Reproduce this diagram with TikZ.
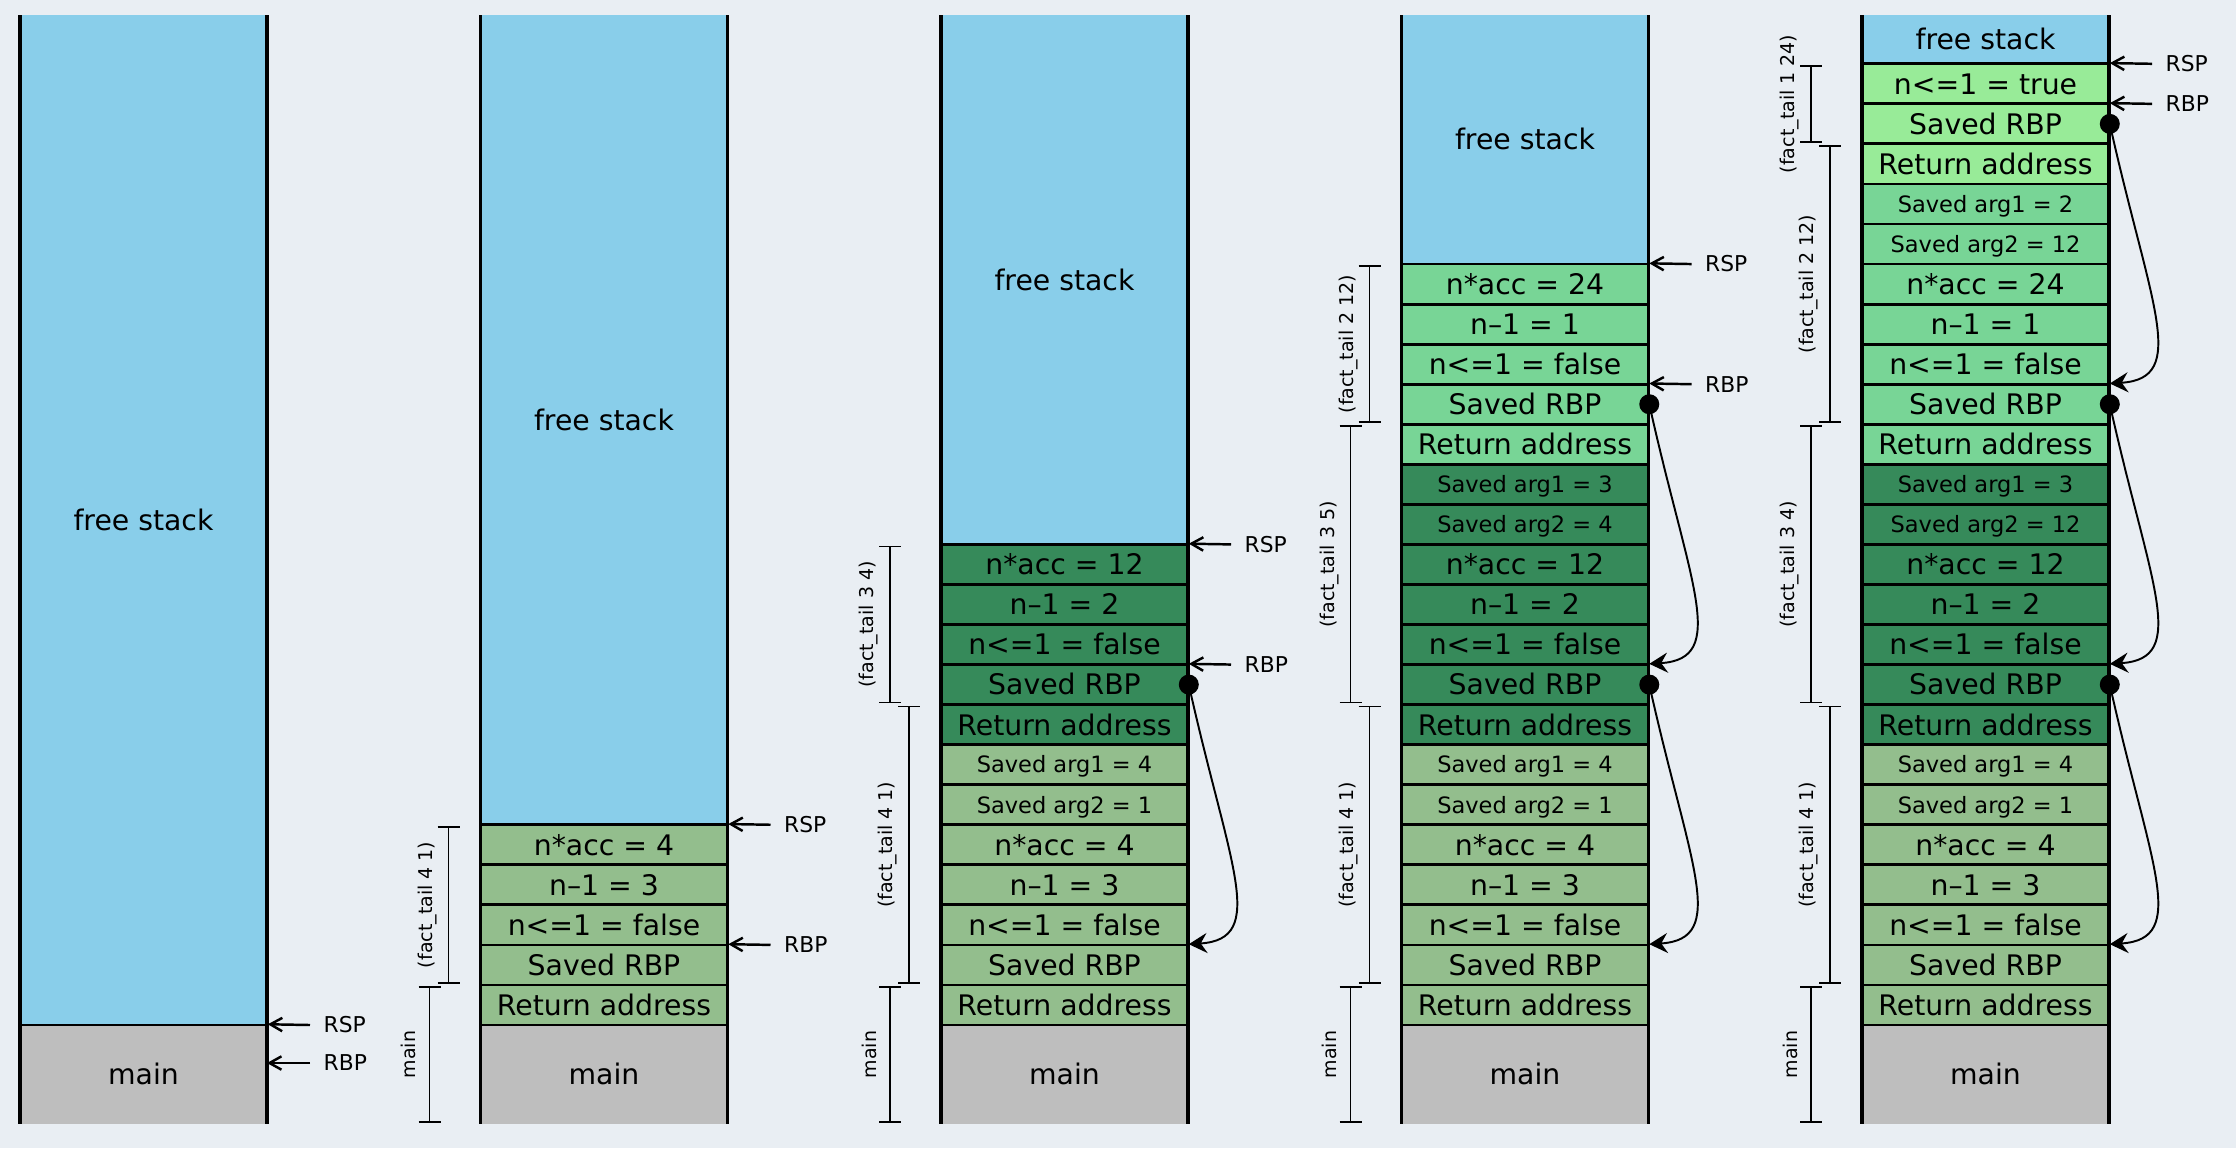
\documentclass[tikz,border=0pt]{standalone}
\usepackage{fontspec}
\setmainfont{DejaVu Sans}
\usetikzlibrary{arrows.meta}
\definecolor{bg}{RGB}{233,238,243}
\definecolor{freeblue}{RGB}{137,206,234}
\definecolor{maingrey}{RGB}{190,190,190}
\definecolor{sage}{RGB}{147,190,141}
\definecolor{darkgreen}{RGB}{54,138,90}
\definecolor{midgreen}{RGB}{120,213,150}
\definecolor{lightgreen}{RGB}{152,235,152}
\tikzset{
  cellbox/.style={inner sep=0pt, minimum width=2.47cm, minimum height=0.4005cm,
    font=\fontsize{8.05}{9}\selectfont, text height=5.9pt, text depth=0pt},
  smalltxt/.style={font=\fontsize{6.4}{7}\selectfont, text height=4.7pt},
  freebox/.style={cellbox, fill=freeblue},
  mainbox/.style={cellbox, fill=maingrey, minimum height=0.99cm},
  sepline/.style={line width=0.8pt},
  sideline/.style={line width=0.9pt},
  ptr/.style={line width=0.7pt, -{Straight Barb[length=3.4pt,width=3.8pt]}},
  ptrlabel/.style={anchor=west, inner xsep=0.13cm, inner ysep=0pt,
    font=\fontsize{6.2}{7}\selectfont, text height=4.5pt, text depth=0pt},
  linkdot/.style={circle, fill=black, inner sep=0pt, minimum size=0.2cm},
  link/.style={line width=0.55pt, -{Stealth[length=5.2pt,width=5.7pt,inset=1.8pt]}},
  frameline/.style={line width=0.5pt},
  framelabel/.style={rotate=90, font=\fontsize{5.4}{6}\selectfont, inner sep=0pt},
}
% #1 name, #2 column left x, #3 row index, #4 style, #5 text
\newcommand\stackrow[5]{\node[cellbox,#4] (#1) at ({#2+123.5},{1025-(#3-0.5)*40.05}) {#5};}
% #1 name, #2 bracket x, #3 top row boundary, #4 bottom row boundary, #5 label
\newcommand\fbrack[5]{%
  \draw[frameline] ({#2-11},{1025-#3*40.05+2}) -- ({#2+11},{1025-#3*40.05+2})
    ({#2},{1025-#3*40.05+2}) -- ({#2},{1025-#4*40.05-2})
    ({#2-11},{1025-#4*40.05-2}) -- ({#2+11},{1025-#4*40.05-2});
  \node[framelabel] (#1) at ({#2-21},{1025-(#3+#4)*20.025}) {#5};}
\newcommand\mainbrack[2]{%
  \draw[frameline] ({#2-11},987) -- ({#2+11},987) (#2,987) -- (#2,1122)
    ({#2-11},1122) -- ({#2+11},1122);
  \node[framelabel] (#1) at ({#2-21},1054.5) {main};}
\begin{document}
\begin{tikzpicture}[x=0.01cm, y=-0.01cm]
\useasboundingbox (0,0) rectangle (2236,1148);
\fill[bg] (0,0) rectangle (2236,1148);

% ---------- column 1 ----------
\node[freebox, minimum height=10.10cm] (f1) at (143.5,520) {free stack};
\node[mainbox] (m1) at (143.5,1074.5) {main};

% ---------- column 2 ----------
\node[freebox, minimum height=8.0975cm] (f2) at (604,419.9) {free stack};
\node[mainbox] (m2) at (604,1074.5) {main};
\stackrow{c2r1}{480.5}{1}{fill=sage}{Return address}
\stackrow{c2r2}{480.5}{2}{fill=sage}{Saved RBP}
\stackrow{c2r3}{480.5}{3}{fill=sage}{n<=1 = false}
\stackrow{c2r4}{480.5}{4}{fill=sage}{n–1 = 3}
\stackrow{c2r5}{480.5}{5}{fill=sage}{n*acc = 4}

% ---------- column 3 ----------
\node[freebox, minimum height=5.294cm] (f3) at (1064.5,279.7) {free stack};
\node[mainbox] (m3) at (1064.5,1074.5) {main};
\stackrow{c3r1}{941}{1}{fill=sage}{Return address}
\stackrow{c3r2}{941}{2}{fill=sage}{Saved RBP}
\stackrow{c3r3}{941}{3}{fill=sage}{n<=1 = false}
\stackrow{c3r4}{941}{4}{fill=sage}{n–1 = 3}
\stackrow{c3r5}{941}{5}{fill=sage}{n*acc = 4}
\stackrow{c3r6}{941}{6}{fill=sage,smalltxt}{Saved arg2 = 1}
\stackrow{c3r7}{941}{7}{fill=sage,smalltxt}{Saved arg1 = 4}
\stackrow{c3r8}{941}{8}{fill=darkgreen}{Return address}
\stackrow{c3r9}{941}{9}{fill=darkgreen}{Saved RBP}
\stackrow{c3r10}{941}{10}{fill=darkgreen}{n<=1 = false}
\stackrow{c3r11}{941}{11}{fill=darkgreen}{n–1 = 2}
\stackrow{c3r12}{941}{12}{fill=darkgreen}{n*acc = 12}

% ---------- column 4 ----------
\node[freebox, minimum height=2.4905cm] (f4) at (1525,139.5) {free stack};
\node[mainbox] (m4) at (1525,1074.5) {main};
\stackrow{c4r1}{1401.5}{1}{fill=sage}{Return address}
\stackrow{c4r2}{1401.5}{2}{fill=sage}{Saved RBP}
\stackrow{c4r3}{1401.5}{3}{fill=sage}{n<=1 = false}
\stackrow{c4r4}{1401.5}{4}{fill=sage}{n–1 = 3}
\stackrow{c4r5}{1401.5}{5}{fill=sage}{n*acc = 4}
\stackrow{c4r6}{1401.5}{6}{fill=sage,smalltxt}{Saved arg2 = 1}
\stackrow{c4r7}{1401.5}{7}{fill=sage,smalltxt}{Saved arg1 = 4}
\stackrow{c4r8}{1401.5}{8}{fill=darkgreen}{Return address}
\stackrow{c4r9}{1401.5}{9}{fill=darkgreen}{Saved RBP}
\stackrow{c4r10}{1401.5}{10}{fill=darkgreen}{n<=1 = false}
\stackrow{c4r11}{1401.5}{11}{fill=darkgreen}{n–1 = 2}
\stackrow{c4r12}{1401.5}{12}{fill=darkgreen}{n*acc = 12}
\stackrow{c4r13}{1401.5}{13}{fill=darkgreen,smalltxt}{Saved arg2 = 4}
\stackrow{c4r14}{1401.5}{14}{fill=darkgreen,smalltxt}{Saved arg1 = 3}
\stackrow{c4r15}{1401.5}{15}{fill=midgreen}{Return address}
\stackrow{c4r16}{1401.5}{16}{fill=midgreen}{Saved RBP}
\stackrow{c4r17}{1401.5}{17}{fill=midgreen}{n<=1 = false}
\stackrow{c4r18}{1401.5}{18}{fill=midgreen}{n–1 = 1}
\stackrow{c4r19}{1401.5}{19}{fill=midgreen}{n*acc = 24}

% ---------- column 5 ----------
\node[freebox, minimum height=0.488cm] (f5) at (1985.5,39.4) {free stack};
\node[mainbox] (m5) at (1985.5,1074.5) {main};
\stackrow{c5r1}{1862}{1}{fill=sage}{Return address}
\stackrow{c5r2}{1862}{2}{fill=sage}{Saved RBP}
\stackrow{c5r3}{1862}{3}{fill=sage}{n<=1 = false}
\stackrow{c5r4}{1862}{4}{fill=sage}{n–1 = 3}
\stackrow{c5r5}{1862}{5}{fill=sage}{n*acc = 4}
\stackrow{c5r6}{1862}{6}{fill=sage,smalltxt}{Saved arg2 = 1}
\stackrow{c5r7}{1862}{7}{fill=sage,smalltxt}{Saved arg1 = 4}
\stackrow{c5r8}{1862}{8}{fill=darkgreen}{Return address}
\stackrow{c5r9}{1862}{9}{fill=darkgreen}{Saved RBP}
\stackrow{c5r10}{1862}{10}{fill=darkgreen}{n<=1 = false}
\stackrow{c5r11}{1862}{11}{fill=darkgreen}{n–1 = 2}
\stackrow{c5r12}{1862}{12}{fill=darkgreen}{n*acc = 12}
\stackrow{c5r13}{1862}{13}{fill=darkgreen,smalltxt}{Saved arg2 = 12}
\stackrow{c5r14}{1862}{14}{fill=darkgreen,smalltxt}{Saved arg1 = 3}
\stackrow{c5r15}{1862}{15}{fill=midgreen}{Return address}
\stackrow{c5r16}{1862}{16}{fill=midgreen}{Saved RBP}
\stackrow{c5r17}{1862}{17}{fill=midgreen}{n<=1 = false}
\stackrow{c5r18}{1862}{18}{fill=midgreen}{n–1 = 1}
\stackrow{c5r19}{1862}{19}{fill=midgreen}{n*acc = 24}
\stackrow{c5r20}{1862}{20}{fill=midgreen,smalltxt}{Saved arg2 = 12}
\stackrow{c5r21}{1862}{21}{fill=midgreen,smalltxt}{Saved arg1 = 2}
\stackrow{c5r22}{1862}{22}{fill=lightgreen}{Return address}
\stackrow{c5r23}{1862}{23}{fill=lightgreen}{Saved RBP}
\stackrow{c5r24}{1862}{24}{fill=lightgreen}{n<=1 = true}

% ---------- separators and sides ----------
\draw[sepline] (20,1025) -- ++(247,0);
\foreach \k in {0,...,5} \draw[sepline] (480.5,{1025-\k*40.05}) -- ++(247,0);
\foreach \k in {0,...,12} \draw[sepline] (941,{1025-\k*40.05}) -- ++(247,0);
\foreach \k in {0,...,19} \draw[sepline] (1401.5,{1025-\k*40.05}) -- ++(247,0);
\foreach \k in {0,...,24} \draw[sepline] (1862,{1025-\k*40.05}) -- ++(247,0);
\foreach \X in {20,480.5,941,1401.5,1862}
  \draw[sideline] (\X,15) -- (\X,1124) ({\X+247},15) -- ({\X+247},1124);

% ---------- RSP / RBP pointers ----------
\coordinate (c1bp) at (267,1063);
\node[ptrlabel] (l1sp) at (310,1025) {RSP};
\node[ptrlabel] (l1bp) at (310,1063) {RBP};
\draw[ptr] (l1sp.west) -- (m1.north east);
\draw[ptr] (l1bp.west) -- (c1bp);

\node[ptrlabel] (l2sp) at (770.5,824.75) {RSP};
\node[ptrlabel] (l2bp) at (770.5,944.9) {RBP};
\draw[ptr] (l2sp.west) -- (c2r5.north east);
\draw[ptr] (l2bp.west) -- (c2r2.north east);

\node[ptrlabel] (l3sp) at (1231,544.4) {RSP};
\node[ptrlabel] (l3bp) at (1231,664.55) {RBP};
\draw[ptr] (l3sp.west) -- (c3r12.north east);
\draw[ptr] (l3bp.west) -- (c3r9.north east);

\node[ptrlabel] (l4sp) at (1691.5,264.05) {RSP};
\node[ptrlabel] (l4bp) at (1691.5,384.2) {RBP};
\draw[ptr] (l4sp.west) -- (c4r19.north east);
\draw[ptr] (l4bp.west) -- (c4r16.north east);

\node[ptrlabel] (l5sp) at (2152,63.8) {RSP};
\node[ptrlabel] (l5bp) at (2152,103.85) {RBP};
\draw[ptr] (l5sp.west) -- (c5r24.north east);
\draw[ptr] (l5bp.west) -- (c5r23.north east);

% ---------- saved RBP links ----------
\node[linkdot] (d3a) at (c3r9.east) {};
\draw[link] (d3a.center) .. controls +(40,180) and +(80,-5) .. (c3r2.north east);

\node[linkdot] (d4a) at (c4r16.east) {};
\node[linkdot] (d4b) at (c4r9.east) {};
\draw[link] (d4a.center) .. controls +(40,180) and +(80,-5) .. (c4r9.north east);
\draw[link] (d4b.center) .. controls +(40,180) and +(80,-5) .. (c4r2.north east);

\node[linkdot] (d5a) at (c5r23.east) {};
\node[linkdot] (d5b) at (c5r16.east) {};
\node[linkdot] (d5c) at (c5r9.east) {};
\draw[link] (d5a.center) .. controls +(40,180) and +(80,-5) .. (c5r16.north east);
\draw[link] (d5b.center) .. controls +(40,180) and +(80,-5) .. (c5r9.north east);
\draw[link] (d5c.center) .. controls +(40,180) and +(80,-5) .. (c5r2.north east);

% ---------- frame brackets ----------
\mainbrack{b2m}{429.5}
\fbrack{b2a}{448.5}{5}{1}{(fact\_tail 4 1)}

\mainbrack{b3m}{890}
\fbrack{b3a}{909}{8}{1}{(fact\_tail 4 1)}
\fbrack{b3b}{890}{12}{8}{(fact\_tail 3 4)}

\mainbrack{b4m}{1350.5}
\fbrack{b4a}{1369.5}{8}{1}{(fact\_tail 4 1)}
\fbrack{b4b}{1350.5}{15}{8}{(fact\_tail 3 5)}
\fbrack{b4c}{1369.5}{19}{15}{(fact\_tail 2 12)}

\mainbrack{b5m}{1811}
\fbrack{b5a}{1830}{8}{1}{(fact\_tail 4 1)}
\fbrack{b5b}{1811}{15}{8}{(fact\_tail 3 4)}
\fbrack{b5c}{1830}{22}{15}{(fact\_tail 2 12)}
\fbrack{b5d}{1811}{24}{22}{(fact\_tail 1 24)}
\end{tikzpicture}
\end{document}
